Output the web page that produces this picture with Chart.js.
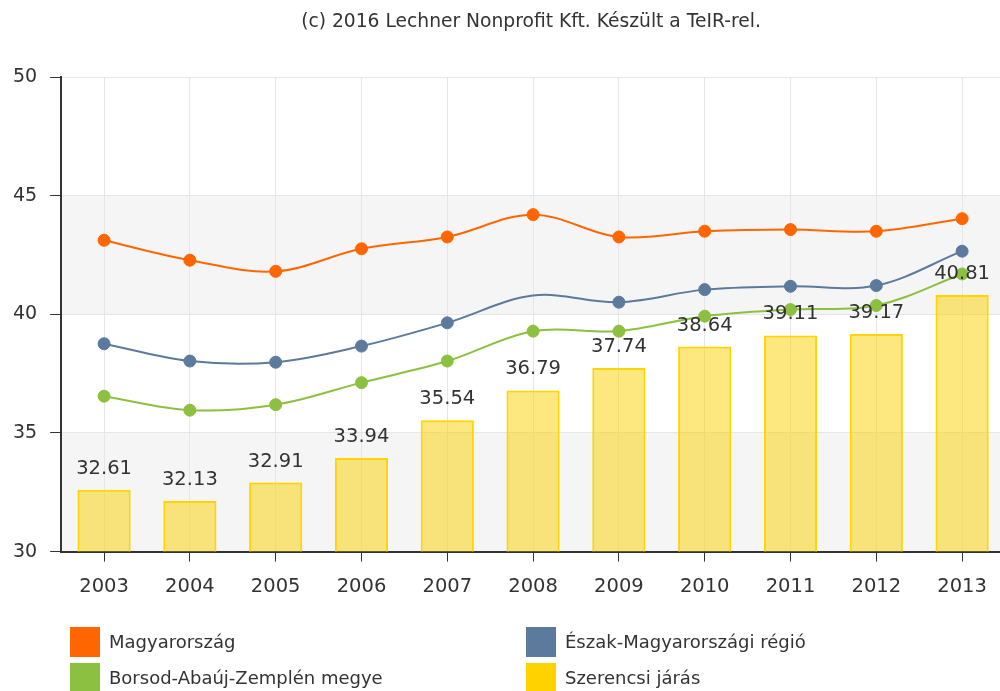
<!DOCTYPE html>
<html lang="hu">
<head>
    <meta charset="UTF-8">
    <title>Szerencsi járás</title>
    <script src="https://cdn.jsdelivr.net/npm/chart.js"></script>
    <style>
        html, body { margin: 0; padding: 0; background: #fff; overflow: hidden; }
        .chart-box { position: relative; width: 1062px; height: 691px; }
    </style>
</head>
<body>
    <div class="chart-box"><canvas id="chart"></canvas></div>

    <script>
        const years = ['2003', '2004', '2005', '2006', '2007', '2008', '2009', '2010', '2011', '2012', '2013'];
        const magyarorszag = [43.12, 42.28, 41.81, 42.76, 43.26, 44.20, 43.26, 43.50, 43.57, 43.50, 44.03];
        const eszakRegio = [38.76, 38.03, 37.98, 38.66, 39.64, 40.79, 40.51, 41.04, 41.18, 41.21, 42.66];
        const bazMegye = [36.55, 35.96, 36.19, 37.12, 38.03, 39.29, 39.29, 39.92, 40.20, 40.37, 41.70];
        const szerencsiJaras = [32.61, 32.13, 32.91, 33.94, 35.54, 36.79, 37.74, 38.64, 39.11, 39.17, 40.81];
        const yTicks = [30, 35, 40, 45, 50];
        const bands = [[30, 35], [40, 45]];
        const credit = '(c) 2016 Lechner Nonprofit Kft. Készült a TeIR-rel.';

        const FONT = "'DejaVu Sans', Verdana, sans-serif";
        Chart.defaults.font.family = FONT;
        Chart.defaults.color = '#333';

        // grey stripes behind every other grid row, plus the credit line on top
        const bandPlugin = {
            id: 'bands',
            beforeDraw(chart) {
                const { ctx, chartArea, scales: { y } } = chart;
                ctx.save();
                ctx.fillStyle = '#f5f5f5';
                bands.forEach(([from, to]) => {
                    const top = y.getPixelForValue(to);
                    const bottom = y.getPixelForValue(from);
                    ctx.fillRect(chartArea.left, top, chartArea.right - chartArea.left, bottom - top);
                });
                // credit text is centred on the whole canvas, not the plot
                ctx.font = '18.7px ' + FONT;
                ctx.fillStyle = '#333';
                ctx.textAlign = 'center';
                ctx.textBaseline = 'middle';
                ctx.fillText(credit, chart.width / 2, 22);
                ctx.restore();
            }
        };

        // value labels above the bars
        const barLabelPlugin = {
            id: 'barLabels',
            afterDatasetsDraw(chart) {
                const { ctx } = chart;
                const idx = chart.data.datasets.findIndex(d => d.type === 'bar');
                const meta = chart.getDatasetMeta(idx);
                ctx.save();
                ctx.font = '19.5px ' + FONT;
                ctx.fillStyle = '#333';
                ctx.textAlign = 'center';
                ctx.textBaseline = 'alphabetic';
                meta.data.forEach((bar, i) => {
                    ctx.fillText(chart.data.datasets[idx].data[i].toFixed(2), bar.x, bar.y - 16);
                });
                ctx.restore();
            }
        };

        // two column legend under the axis
        const legendPlugin = {
            id: 'gridLegend',
            afterDraw(chart, args, opts) {
                const { ctx } = chart;
                ctx.save();
                ctx.font = '18px ' + FONT;
                ctx.textBaseline = 'middle';
                ctx.textAlign = 'left';
                opts.order.forEach((dsIndex, n) => {
                    const ds = chart.data.datasets[dsIndex];
                    const x = opts.cols[n % 2];
                    const y = opts.rows[Math.floor(n / 2)];
                    ctx.fillStyle = ds.legendColor;
                    ctx.fillRect(x, y, opts.box, opts.box);
                    ctx.fillStyle = '#333';
                    ctx.fillText(ds.label, x + opts.box + 9, y + opts.box / 2 + 1);
                });
                ctx.restore();
            }
        };

        function lineSet(label, data, color, order, radius) {
            return {
                type: 'line',
                label: label,
                data: data,
                borderColor: color,
                backgroundColor: color,
                legendColor: color,
                borderWidth: 2,
                pointRadius: radius || 6,
                pointBorderWidth: 1,
                pointHoverRadius: 6,
                tension: 0.35,
                fill: false,
                order: order
            };
        }

        new Chart(document.getElementById('chart'), {
            type: 'bar',
            data: {
                labels: years,
                datasets: [
                    lineSet('Magyarország', magyarorszag, '#ff6600', 0),
                    lineSet('Észak-Magyarországi régió', eszakRegio, '#5b7a9c', 1,
                        [6, 6, 6, 6, 6, 0, 6, 6, 6, 6, 6]),
                    lineSet('Borsod-Abaúj-Zemplén megye', bazMegye, '#8cc040', 2),
                    {
                        type: 'bar',
                        label: 'Szerencsi járás',
                        data: szerencsiJaras,
                        backgroundColor: 'rgba(250, 210, 0, 0.5)',
                        borderColor: '#ffd400',
                        legendColor: '#ffd200',
                        borderWidth: 2,
                        barPercentage: 0.62,
                        categoryPercentage: 1,
                        order: 3
                    }
                ]
            },
            options: {
                responsive: true,
                maintainAspectRatio: false,
                animation: false,
                layout: { padding: { left: 0, right: 57, top: 77, bottom: 78 } },
                plugins: {
                    legend: { display: false },
                    tooltip: { enabled: false },
                    gridLegend: {
                        order: [0, 1, 2, 3],
                        cols: [70, 526],
                        rows: [627, 663],
                        box: 30
                    }
                },
                scales: {
                    x: {
                        offset: true,
                        grid: { offset: false, color: '#e6e6e6', tickColor: '#333', tickLength: 10 },
                        border: { color: '#333', width: 2 },
                        ticks: { font: { size: 19.5 }, padding: 14, color: '#333' }
                    },
                    y: {
                        min: 30,
                        max: 50,
                        afterBuildTicks(scale) {
                            scale.ticks = yTicks.map(v => ({ value: v }));
                        },
                        grid: { color: '#e6e6e6', tickColor: '#333', tickLength: 11 },
                        border: { color: '#333', width: 2 },
                        ticks: { font: { size: 19 }, padding: 13, color: '#333' }
                    }
                }
            },
            plugins: [bandPlugin, barLabelPlugin, legendPlugin]
        });
    </script>
</body>
</html>
